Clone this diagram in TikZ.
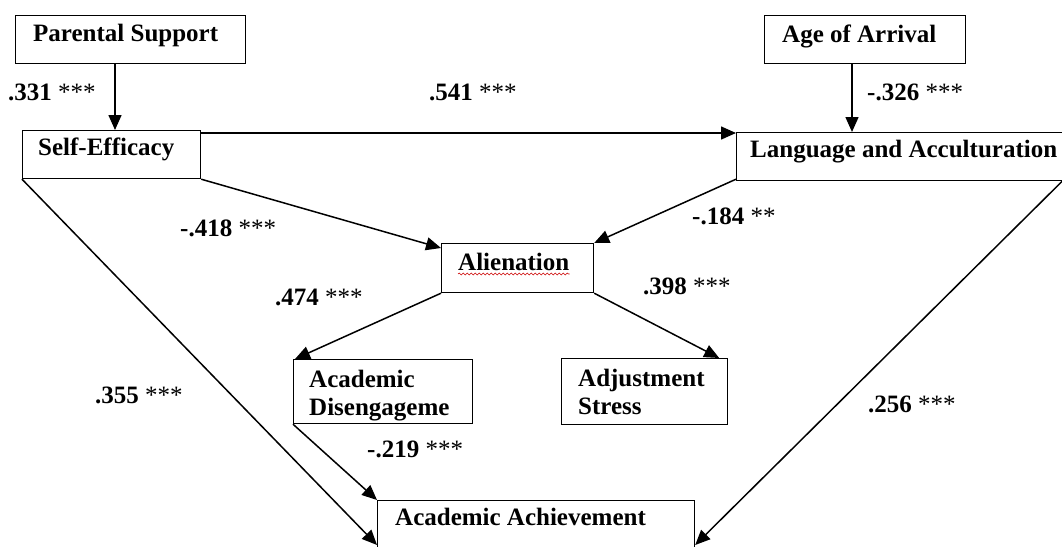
\documentclass[tikz,border=0pt]{standalone}
\usepackage{fontspec}
\setmainfont{Liberation Serif}
\usetikzlibrary{arrows.meta,decorations.pathmorphing}
\begin{document}
\begin{tikzpicture}[x=1pt,y=-1pt,
 box/.style={draw, line width=1.2pt, rectangle, inner sep=0pt, anchor=north west},
 txt/.style={inner sep=0pt, anchor=base west, font=\fontsize{25}{28}\selectfont\bfseries},
 lab/.style={inner sep=0pt, anchor=base west, font=\fontsize{25}{28}\selectfont},
 arr/.style={line width=1.5pt, -{Triangle[length=15pt,width=13pt]}},
 wavy/.style={red!80!black, line width=0.6pt, decorate, decoration={snake, amplitude=0.9pt, segment length=4pt}}]
\useasboundingbox (0,0) rectangle (1062,546);
\fill[white] (0,0) rectangle (1062,546);

% boxes
\node[box, minimum width=230pt, minimum height=48pt] (PS) at (15,15) {};
\node[box, minimum width=201pt, minimum height=48pt] (AoA) at (764,15) {};
\node[box, minimum width=178pt, minimum height=48pt] (SE) at (22,130) {};
\node[box, minimum width=334pt, minimum height=48pt] (LA) at (736,132) {};
\node[box, minimum width=152pt, minimum height=49pt] (Al) at (441,243) {};
\node[box, minimum width=179pt, minimum height=64pt] (AD) at (293,359) {};
\node[box, minimum width=166pt, minimum height=66pt] (AS) at (561,358) {};
\node[box, minimum width=317pt, minimum height=60pt] (AA) at (377,500) {};

% box texts
\node[txt] (tPS) at (33,41) {Parental Support};
\node[txt] (tAoA) at (782,42) {Age of Arrival};
\node[txt] (tSE) at (38,155) {Self-Efficacy};
\node[txt] (tLA) at (750,157) {Language and Acculturation};
\node[txt] (tAl) at (458,270) {Alienation};
\node[txt] (tAD1) at (309,387) {Academic};
\node[txt] (tAD2) at (309,415) {Disengageme};
\node[txt] (tAS1) at (578,386) {Adjustment};
\node[txt] (tAS2) at (578,414) {Stress};
\node[txt] (tAA) at (395,525) {Academic Achievement};
\draw[wavy] ([yshift=-4pt]tAl.base west) -- ([yshift=-4pt]tAl.base east);

% connectors
\draw[arr] ([xshift=100pt]PS.south west) -- ([xshift=93pt]SE.north west);
\draw[arr] ([xshift=88pt]AoA.south west) -- ([xshift=116pt]LA.north west);
\draw[arr] ([yshift=-3pt]SE.north east) -- ([yshift=-1pt]LA.north west);
\draw[arr] (SE.south east) -- ([yshift=-5pt]Al.north west);
\draw[arr] ([yshift=2pt]LA.south west) -- (Al.north east);
\draw[arr] (Al.south west) -- ([xshift=2pt]AD.north west);
\draw[arr] (Al.south east) -- ([xshift=-9pt]AS.north east);
\draw[arr] (AD.south west) -- (AA.north west);
\draw[arr] (SE.south west) -- ([yshift=-45pt]AA.north west);
\draw[arr] ([xshift=-9pt]LA.south east) -- ([yshift=-45pt]AA.north east);

% coefficient labels
\node[lab] (l1) at (8,100) {\textbf{.331} ***};
\node[lab] (l2) at (429,100) {\textbf{.541} ***};
\node[lab] (l3) at (867,100) {\textbf{-.326} ***};
\node[lab] (l4) at (180,236) {\textbf{-.418} ***};
\node[lab] (l5) at (692,224) {\textbf{-.184} **};
\node[lab] (l6) at (275,305) {\textbf{.474} ***};
\node[lab] (l7) at (643,294) {\textbf{.398} ***};
\node[lab] (l8) at (95,403) {\textbf{.355} ***};
\node[lab] (l9) at (367,457) {\textbf{-.219} ***};
\node[lab] (l10) at (868,412) {\textbf{.256} ***};
\end{tikzpicture}
\end{document}
